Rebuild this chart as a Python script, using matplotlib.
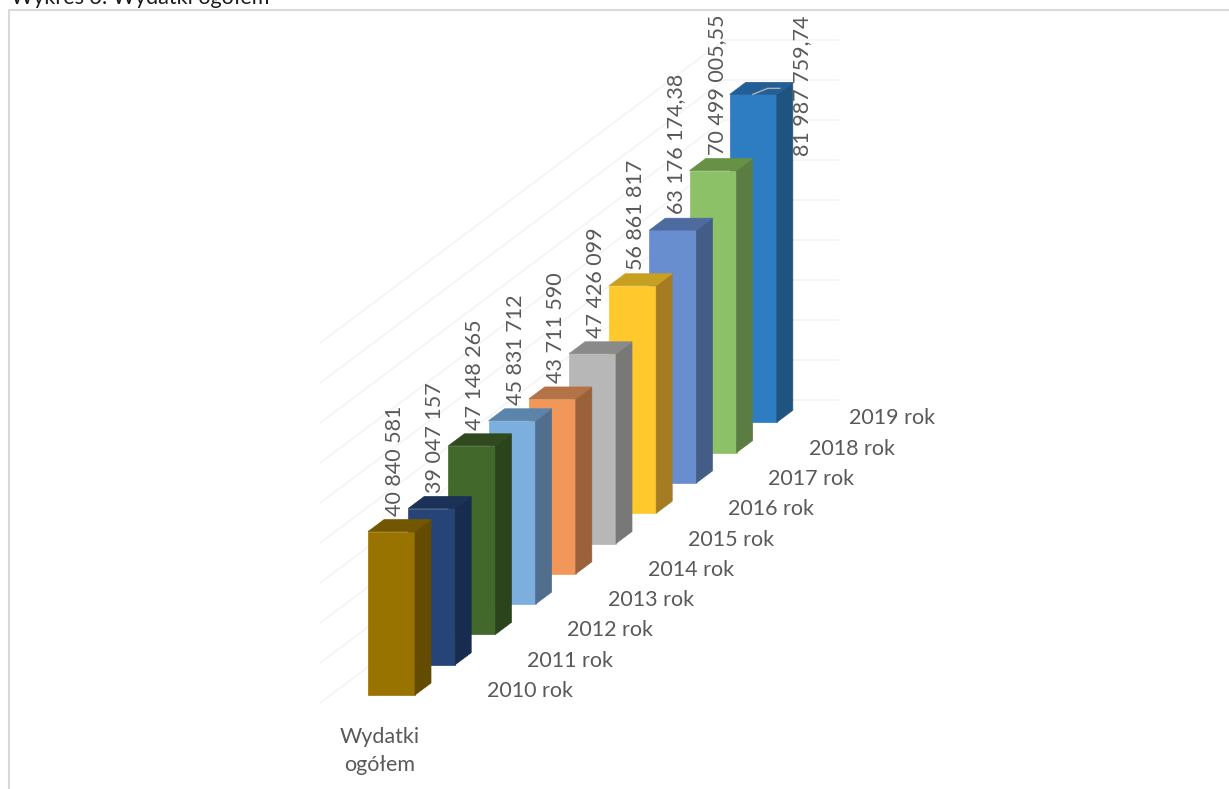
import matplotlib
matplotlib.use("Agg")
import matplotlib.pyplot as plt

plt.rcParams['font.family'] = ['Lato', 'DejaVu Sans']

years = ['2010 rok', '2011 rok', '2012 rok', '2013 rok', '2014 rok',
         '2015 rok', '2016 rok', '2017 rok', '2018 rok', '2019 rok']
values = [40840581, 39047157, 47148265, 45831712, 43711590,
          47426099, 56861817, 63176174.38, 70499005.55, 81987759.74]
value_labels = ['40 840 581', '39 047 157', '47 148 265', '45 831 712', '43 711 590',
                '47 426 099', '56 861 817', '63 176 174,38', '70 499 005,55', '81 987 759,74']
front_colors = ['#997300', '#264478', '#43682b', '#7cafde', '#f1975a',
                '#b7b7b7', '#ffc92e', '#698ed0', '#8cc168', '#2e7cc2']
side_colors = ['#634b00', '#182c4f', '#2b441c', '#506f8f', '#9a613a',
               '#787878', '#a67c22', '#445d86', '#5b7d43', '#205480']
top_colors = ['#725600', '#1b3157', '#30491e', '#5b84aa', '#b47247',
              '#8a8a8a', '#c7a021', '#4e6ba0', '#679145', '#235f96']
grid_levels = [0, 10, 20, 30, 40, 50, 60, 70, 80, 90]

# oblique projection, all in pixels of the picture
X0, Y0 = 368, 695      # front left bottom corner of the first bar
STEP_X, STEP_Y = 40.2, -30.3
BAR_W = 47
DEPTH_X, DEPTH_Y = 16, -12
PX_PER_MILLION = 4.0
TEXT = '#595959'
GRID = '#f3f3f3'
FS = 15.5


def project(i, v):
    return X0 + i * STEP_X, Y0 + i * STEP_Y - v / 1e6 * PX_PER_MILLION


fig = plt.figure(figsize=(12.29, 7.89), dpi=100)
ax = fig.add_axes([0, 0, 1, 1])
ax.set_xlim(0, 1229)
ax.set_ylim(789, 0)
ax.axis('off')

# chart frame (top and left only are visible)
ax.plot([9, 9, 1229], [789, 10, 10], color='#d9d9d9', lw=1.5, zorder=1)

# back wall gridlines
for level in grid_levels:
    y = 400 - level * PX_PER_MILLION
    ax.plot([320, 724, 838], [y + 303, y, y], color=GRID, lw=1, zorder=1)

# bars, back to front
for i in range(len(values) - 1, -1, -1):
    xb, yb = project(i, 0)
    xt, yt = project(i, values[i])
    z = 2 + (len(values) - i)
    ax.fill([xb, xb + BAR_W, xb + BAR_W, xb], [yb, yb, yt, yt],
            color=front_colors[i], lw=0.5, zorder=z)
    ax.fill([xb + BAR_W, xb + BAR_W + DEPTH_X, xb + BAR_W + DEPTH_X, xb + BAR_W],
            [yb, yb + DEPTH_Y, yt + DEPTH_Y, yt],
            color=side_colors[i], lw=0.5, zorder=z)
    ax.fill([xb, xb + BAR_W, xb + BAR_W + DEPTH_X, xb + DEPTH_X],
            [yt, yt, yt + DEPTH_Y, yt + DEPTH_Y],
            color=top_colors[i], lw=0.5, zorder=z)

    # value label sits above the bar, the last one was dragged to the side
    lx = xb + DEPTH_X + 11
    ly = yt + DEPTH_Y - 4
    if i == len(values) - 1:
        lx += 45
        ly += 78
    ax.text(lx, ly, value_labels[i], rotation=90, ha='center', va='bottom',
            color=TEXT, fontsize=FS, zorder=30)

    # category label on the floor
    ax.text(xb + 119, yb - 4, years[i], ha='left', va='center',
            color=TEXT, fontsize=FS, zorder=30)

# leader line of the moved label
xl, yl = project(len(values) - 1, values[-1])
ax.plot([xl + 23, xl + 38, xl + 50], [yl, yl - 6, yl - 6],
        color='#b0b0b0', lw=1, zorder=25)

ax.text(380, 751, 'Wydatki\nogółem', ha='center', va='center', color=TEXT,
        fontsize=FS, linespacing=1.55, zorder=30)
ax.text(11, 4, 'Wykres 3. Wydatki ogółem', ha='left', va='baseline', color='#1a1a1a',
        fontsize=FS, zorder=30)

fig.savefig('out.png', dpi=100)
